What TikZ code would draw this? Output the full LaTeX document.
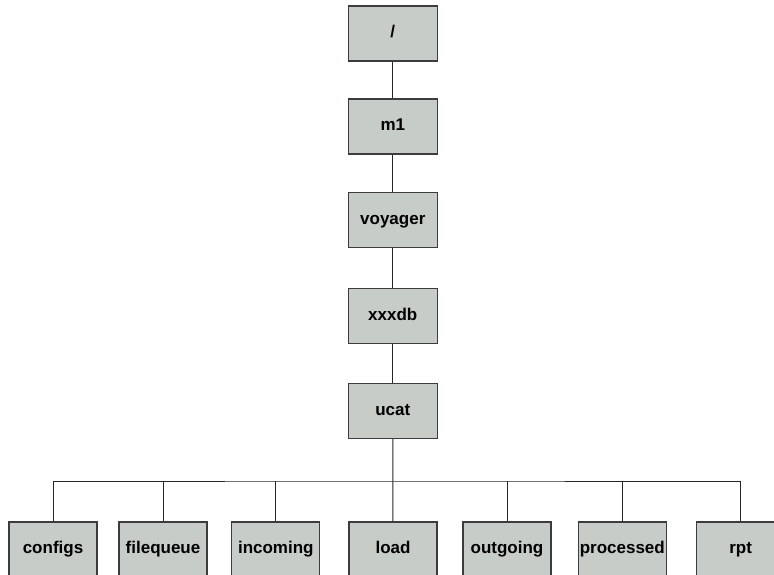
\documentclass[tikz,border=0pt]{standalone}
\usepackage{fontspec}
\setmainfont{Liberation Sans}
\definecolor{boxfill}{RGB}{200,204,200}
\definecolor{boxline}{RGB}{60,60,60}
\begin{document}
\begin{tikzpicture}[x=1pt,y=-1pt,
  dirbox/.style={draw=boxline,fill=boxfill,line width=1.2pt,minimum width=89pt,minimum height=55pt,inner sep=0pt,
    text height=12.2pt,text depth=3.6pt,
    font=\fontsize{17}{20}\selectfont\bfseries},
  conn/.style={draw=black!85,line width=1pt}]
\useasboundingbox (0,0) rectangle (774,575);
\clip (0,0) rectangle (774,575);
\node[dirbox] (root) at (392.8,33.5) {/};
\node[dirbox] (m1) at (392.8,126.5) {m1};
\node[dirbox] (voyager) at (392.8,220) {voyager};
\node[dirbox] (xxxdb) at (392.8,315.8) {xxxdb};
\node[dirbox] (ucat) at (392.8,411) {ucat};
\node[dirbox,minimum width=88pt] (configs) at (53,549.5) {configs};
\node[dirbox,minimum width=88pt] (filequeue) at (163,549.5) {filequeue};
\node[dirbox,minimum width=88pt] (incoming) at (275.8,549.5) {incoming};
\node[dirbox,minimum width=88pt] (load) at (393,549.5) {load};
\node[dirbox,minimum width=88pt] (outgoing) at (507,549.5) {outgoing};
\node[dirbox,minimum width=88pt] (processed) at (622.3,549.5) {processed};
\node[dirbox,minimum width=88pt] (rpt) at (740.7,549.5) {rpt};
\coordinate (bar) at (392.8,481);
\draw[conn] (root) -- (m1);
\draw[conn] (m1) -- (voyager);
\draw[conn] (voyager) -- (xxxdb);
\draw[conn] (xxxdb) -- (ucat);
\draw[conn] (ucat) -- (load);
\draw[conn] (configs.north) |- (bar) -| (rpt.north);
\foreach \n in {filequeue,incoming,outgoing,processed}
  \draw[conn] (\n.north) -- (\n.north |- bar);
\end{tikzpicture}
\end{document}
